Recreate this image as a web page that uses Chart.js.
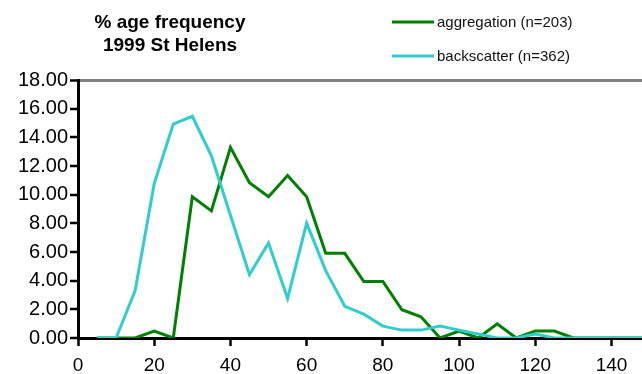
<!DOCTYPE html>
<html>
<head>
<meta charset="utf-8">
<script src="https://cdn.jsdelivr.net/npm/chart.js@4.4.1/dist/chart.umd.min.js"></script>
<style>
  html, body { margin: 0; padding: 0; background: #fff; }
  #wrap { width: 642px; height: 374px; position: relative; }
</style>
</head>
<body>
<div id="wrap"><canvas id="c" width="642" height="374"></canvas></div>
<script>
// ---- data ----
const titleLines = ['% age frequency', '1999 St Helens'];
const sizeClasses = [5,10,15,20,25,30,35,40,45,50,55,60,65,70,75,80,85,90,95,100,105,110,115,120,125,130,135,140,145,150];
const aggregationLabel = 'aggregation (n=203)';
const aggregation = [0,0,0,0.49,0,9.85,8.87,13.30,10.84,9.85,11.33,9.85,5.91,5.91,3.94,3.94,1.97,1.48,0,0.49,0,0.99,0,0.49,0.49,0,0,0,0,0];
const backscatterLabel = 'backscatter (n=362)';
const backscatter = [0,0,3.31,10.77,14.92,15.47,12.71,8.56,4.42,6.63,2.76,8.01,4.70,2.21,1.66,0.83,0.55,0.55,0.83,0.55,0.28,0,0,0.28,0,0,0,0,0,0];
const yTicks = [0,2,4,6,8,10,12,14,16,18];
const xTicks = [0,20,40,60,80,100,120,140];

const GREEN = '#008000';
const CYAN = '#33CCCC';
const FONT = '"Liberation Sans", Arial, sans-serif';

const toPoints = (vals) => sizeClasses.map((x, i) => ({ x: x, y: vals[i] }));

const headerPlugin = {
  id: 'header',
  afterDraw(chart) {
    const ctx = chart.ctx;
    ctx.save();
    // title
    ctx.fillStyle = '#000';
    ctx.font = 'bold 19px ' + FONT;
    ctx.textAlign = 'center';
    ctx.textBaseline = 'middle';
    ctx.fillText(titleLines[0], 170, 23);
    ctx.fillText(titleLines[1], 170, 46);
    // legend
    const ds = chart.data.datasets;
    const rows = [22, 56];
    ds.forEach((d, i) => {
      const y = rows[i];
      ctx.strokeStyle = d.borderColor;
      ctx.lineWidth = 3;
      ctx.beginPath();
      ctx.moveTo(392, y);
      ctx.lineTo(434, y);
      ctx.stroke();
      ctx.fillStyle = '#111';
      ctx.font = '15px ' + FONT;
      ctx.textAlign = 'left';
      ctx.textBaseline = 'middle';
      ctx.fillText(d.label, 437, y + 1);
    });
    ctx.restore();
  }
};

new Chart(document.getElementById('c'), {
  type: 'line',
  data: {
    datasets: [
      { label: aggregationLabel, data: toPoints(aggregation), borderColor: GREEN, backgroundColor: GREEN,
        borderWidth: 3, pointRadius: 0, tension: 0, order: 1 },
      { label: backscatterLabel, data: toPoints(backscatter), borderColor: CYAN, backgroundColor: CYAN,
        borderWidth: 3, pointRadius: 0, tension: 0, order: 0 }
    ]
  },
  options: {
    responsive: false,
    animation: false,
    layout: { padding: { top: 80, left: 0, right: 0, bottom: 0 } },
    plugins: { legend: { display: false }, title: { display: false }, tooltip: { enabled: false } },
    scales: {
      x: {
        type: 'linear',
        min: 0, max: 148,
        afterBuildTicks: (s) => { s.ticks = xTicks.map(v => ({ value: v })); },
        afterFit: (s) => { s.height = 36; },
        ticks: { color: '#000', font: { family: FONT, size: 19 }, padding: 8, maxRotation: 0, autoSkip: false,
                 callback: (v) => String(v) },
        grid: { drawOnChartArea: false, tickLength: 8, tickColor: '#000', tickWidth: 2.5 },
        border: { color: '#000', width: 3 }
      },
      y: {
        min: 0, max: 18,
        afterBuildTicks: (s) => { s.ticks = yTicks.map(v => ({ value: v })); },
        afterFit: (s) => { s.width = 78; },
        ticks: { color: '#000', font: { family: FONT, size: 20 }, padding: 2,
                 callback: (v) => Number(v).toFixed(2) },
        grid: { drawOnChartArea: true, tickLength: 8, tickColor: '#000', tickWidth: 2.5,
                color: (c) => (c.tick && c.tick.value === 18) ? '#808080' : 'rgba(0,0,0,0)',
                lineWidth: (c) => (c.tick && c.tick.value === 18) ? 3 : 0 },
        border: { color: '#000', width: 3 }
      }
    }
  },
  plugins: [headerPlugin]
});
</script>
</body>
</html>
